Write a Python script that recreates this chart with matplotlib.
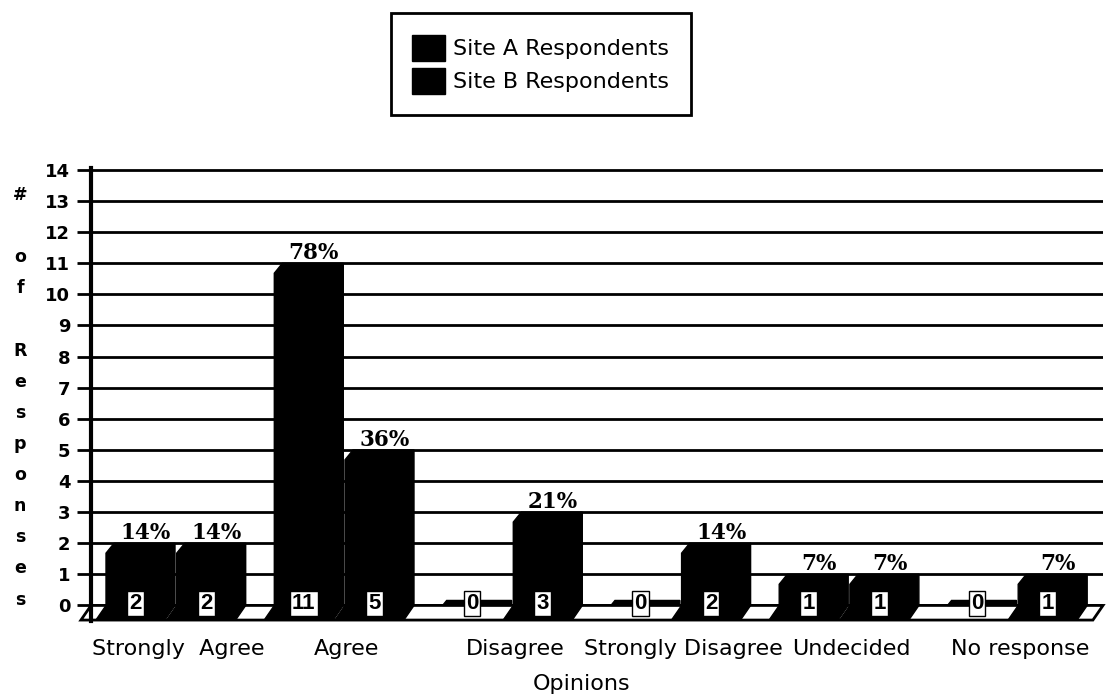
import numpy as np
import matplotlib
matplotlib.use("Agg")
import matplotlib.pyplot as plt
from matplotlib.patches import Patch
from matplotlib.transforms import blended_transform_factory

# ---------------------------------------------------------------
# data
# ---------------------------------------------------------------
categories = ["Strongly  Agree", "Agree", "Disagree",
              "Strongly Disagree", "Undecided", "No response"]
site_a = [2, 11, 0, 0, 1, 0]
site_b = [2, 5, 3, 2, 1, 1]
pct_a = ["14%", "78%", "", "", "7%", ""]
pct_b = ["14%", "36%", "21%", "14%", "7%", "7%"]
series_names = ["Site A Respondents", "Site B Respondents"]
yticks = list(range(15))
ylabel_rows = ["#", "", "o", "f", "", "R", "e", "s", "p", "o", "n", "s", "e", "s"]

plt.rcParams['font.family'] = 'DejaVu Sans'

fig = plt.figure(figsize=(11.06, 6.99), dpi=100)
ax = fig.add_axes([0.0823, 0.1116, 0.915, 0.6475])

x = np.arange(len(categories))
xl, xr = -0.469, 5.544
yb = -0.47          # front edge of the floor
d = 0.06            # slant of the floor
cw, ch = 0.048, 0.32  # chamfer at top-left of each bar

# floor slab
ax.fill([xl - d, xr - d, xr, xl], [yb, yb, 0, 0], facecolor='white',
        edgecolor='black', lw=2, zorder=1, clip_on=False)

def draw_bar(x0, x1, h, pct):
    if h > 0:
        xs = [x0 - d, x0, x0, x0 + cw, x1, x1, x1 - d]
        ys = [yb, 0, h - ch, h, h, 0, yb]
    else:
        xs = [x0, x0 + cw * 0.5, x1, x1]
        ys = [0, 0.16, 0.16, 0]
    ax.fill(xs, ys, color='black', zorder=2, clip_on=False)
    mid = (x0 + x1) / 2
    ax.text(mid - 0.03, 0.06, str(h), ha='center', va='center',
            fontsize=16, fontweight='bold', family='Liberation Sans', zorder=4,
            bbox=dict(boxstyle='square,pad=0.1', fc='white', ec='black', lw=1))
    if pct:
        ax.text(mid + 0.03, h + 0.14, pct, ha='center', va='baseline',
                family='DejaVu Serif', fontsize=15.5, fontweight='bold', zorder=4)

for c, a, b, pa, pb in zip(x, site_a, site_b, pct_a, pct_b):
    draw_bar(c - 0.38, c + 0.03, a, pa)
    draw_bar(c + 0.04, c + 0.45, b, pb)

# category labels and axis title
for c, cat in zip(x, categories):
    ax.text(c + 0.05, -1.59, cat, ha='center', va='baseline', fontsize=16,
            clip_on=False)
ax.text(2.448, -2.72, "Opinions", ha='center', va='baseline', fontsize=16,
        clip_on=False)

# stacked y label, one letter per row
trans = blended_transform_factory(fig.transFigure, ax.transData)
for k, letter in enumerate(ylabel_rows):
    ax.text(20 / 1106, 13 - k + 0.03, letter, transform=trans, ha='center',
            va='baseline', fontsize=12.5, fontweight='bold')

ax.set_xlim(xl, xr)
ax.set_ylim(-0.5, 14.05)
ax.set_yticks(yticks)
ax.set_xticks([])
ax.set_axisbelow(True)
ax.grid(axis='y', color='black', lw=2)
for s in ['top', 'right', 'bottom']:
    ax.spines[s].set_visible(False)
ax.spines['left'].set_linewidth(3)
ax.tick_params(axis='y', direction='out', length=10, width=2, labelsize=13, pad=5)
for t in ax.get_yticklabels():
    t.set_fontweight('bold')

handles = [Patch(facecolor='black', edgecolor='black'),
           Patch(facecolor='black', edgecolor='black')]
leg = fig.legend(handles, series_names, loc='center', bbox_to_anchor=(0.489, 0.908),
                 fontsize=16, handlelength=1.45, handleheight=1.45,
                 handletextpad=0.4, labelspacing=0.3, borderpad=0.95,
                 fancybox=False, edgecolor='black', framealpha=1)
leg.get_frame().set_linewidth(2)

fig.savefig("out.png", dpi=100)
